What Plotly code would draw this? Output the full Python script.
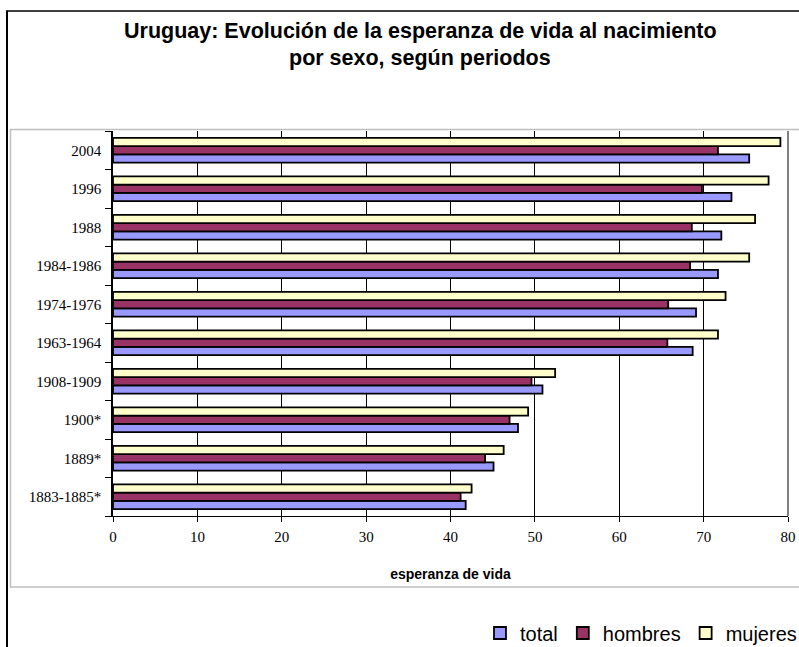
import plotly.graph_objects as go

periodos = ["1883-1885*", "1889*", "1900*", "1908-1909", "1963-1964",
            "1974-1976", "1984-1986", "1988", "1996", "2004"]
total = [41.8, 45.1, 48.0, 50.9, 68.7, 69.1, 71.7, 72.1, 73.3, 75.4]
hombres = [41.2, 44.1, 47.0, 49.6, 65.7, 65.8, 68.4, 68.6, 69.8, 71.7]
mujeres = [42.5, 46.3, 49.2, 52.4, 71.7, 72.6, 75.4, 76.1, 77.7, 79.1]

series = [("total", total, "#9999FF"),
          ("hombres", hombres, "#993366"),
          ("mujeres", mujeres, "#FFFFCC")]

fig = go.Figure()
for name, vals, col in series:
    fig.add_trace(go.Bar(
        y=periodos, x=vals, name=name, orientation="h",
        marker=dict(color=col, line=dict(color="black", width=1.8)),
    ))

W, H = 799, 647
L, R, T, B = 113, 788, 131, 516
pw, ph = R - L, B - T


def px(x):
    return (x - L) / pw


def py(y):
    return (B - y) / ph


fig.update_layout(
    width=W, height=H,
    margin=dict(l=L, r=W - R, t=T, b=H - B, autoexpand=False),
    paper_bgcolor="white", plot_bgcolor="white",
    barmode="group", bargap=0.36, bargroupgap=0,
    showlegend=True,
    legend=dict(orientation="h", x=px(802), xanchor="right",
                y=py(633), yanchor="middle",
                font=dict(family="Liberation Sans, Arial", size=20, color="black"),
                itemwidth=30, tracegroupgap=0, bgcolor="rgba(0,0,0,0)"),
    xaxis=dict(range=[0, 80], dtick=10, showgrid=True, gridcolor="black",
               gridwidth=1, zeroline=False, showline=True, linecolor="black",
               linewidth=1, mirror=False, ticks="outside", ticklen=5,
               tickcolor="black", ticklabelstandoff=2,
               tickfont=dict(family="Liberation Serif, Times New Roman", size=15,
                             color="black"),
               title=dict(text="<b>esperanza de vida</b>", standoff=25,
                          font=dict(family="Liberation Sans, Arial", size=14,
                                    color="black"))),
    yaxis=dict(type="category", showline=True, linecolor="black", linewidth=1.5,
               ticks="outside", tickson="boundaries", ticklen=6,
               tickcolor="black", showgrid=False, ticklabelstandoff=7,
               tickfont=dict(family="Liberation Serif, Times New Roman", size=15,
                             color="black")),
    annotations=[
        dict(text="<b>Uruguay: Evolución de la esperanza de vida al nacimiento</b>",
             xref="paper", yref="paper", x=px(420), y=py(31),
             xanchor="center", yanchor="middle", showarrow=False,
             font=dict(family="Liberation Sans, Arial", size=21.5, color="black")),
        dict(text="<b>por sexo, según periodos</b>",
             xref="paper", yref="paper", x=px(420), y=py(58),
             xanchor="center", yanchor="middle", showarrow=False,
             font=dict(family="Liberation Sans, Arial", size=21.5, color="black")),
    ],
    shapes=[
        dict(type="line", xref="paper", yref="paper", x0=px(7), x1=px(7),
             y0=py(11), y1=py(647), line=dict(color="black", width=2)),
        dict(type="line", xref="paper", yref="paper", x0=px(6), x1=px(799),
             y0=py(11), y1=py(11), line=dict(color="black", width=1.5)),
        dict(type="rect", xref="paper", yref="paper", x0=px(10.5), x1=px(800),
             y0=py(587), y1=py(129.5), line=dict(color="#BFBFBF", width=1.5),
             layer="below"),
        dict(type="line", xref="paper", yref="paper", x0=1, x1=1, y0=0, y1=1,
             line=dict(color="black", width=1)),
    ],
)

fig.write_html("out.html", config={"displayModeBar": False},
               post_script="document.body.style.margin='0';document.body.style.overflow='hidden';")
